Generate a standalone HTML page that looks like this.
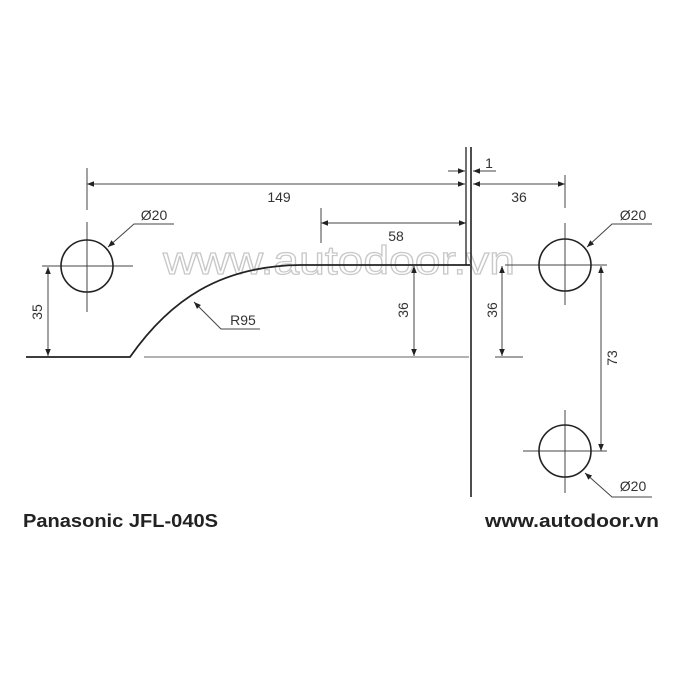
<!DOCTYPE html>
<html><head><meta charset="utf-8"><style>
html,body{margin:0;padding:0;background:#fff;}
svg{display:block;}
text{font-family:"Liberation Sans",Arial,sans-serif;}
</style></head><body>
<svg width="679" height="679" viewBox="0 0 679 679" xmlns="http://www.w3.org/2000/svg">
<defs>
<marker id="a" viewBox="0 0 10 10" refX="10" refY="5" markerWidth="8" markerHeight="7" orient="auto-start-reverse" markerUnits="userSpaceOnUse">
<path d="M0,1 L10,5 L0,9 z" fill="#222"/></marker>
</defs>
<text x="163" y="274" font-size="40" fill="#fff" stroke="#c8c8c8" stroke-width="1.2" textLength="352" lengthAdjust="spacingAndGlyphs">www.autodoor.vn</text>

<g stroke="#444" stroke-width="1" fill="none">
<line x1="87" y1="168" x2="87" y2="210"/>
<line x1="87" y1="222" x2="87" y2="312"/>
<line x1="42" y1="266" x2="133" y2="266"/>
<line x1="87" y1="184" x2="465" y2="184" marker-start="url(#a)" marker-end="url(#a)"/>
<line x1="448" y1="171" x2="465" y2="171" marker-end="url(#a)"/>
<line x1="496" y1="171" x2="473" y2="171" marker-end="url(#a)"/>
<line x1="473" y1="184" x2="565" y2="184" marker-start="url(#a)" marker-end="url(#a)"/>
<line x1="565" y1="175" x2="565" y2="208"/>
<line x1="321" y1="223" x2="466" y2="223" marker-start="url(#a)" marker-end="url(#a)"/>
<line x1="321" y1="208" x2="321" y2="243"/>
<line x1="48" y1="267" x2="48" y2="356" marker-start="url(#a)" marker-end="url(#a)"/>
<line x1="144" y1="357" x2="469" y2="357" stroke="#666"/>
<line x1="414" y1="266" x2="414" y2="356" marker-start="url(#a)" marker-end="url(#a)"/>
<line x1="502" y1="266" x2="502" y2="356" marker-start="url(#a)" marker-end="url(#a)"/>
<line x1="495" y1="357" x2="523" y2="357"/>
<line x1="505" y1="265" x2="607" y2="265"/>
<line x1="565" y1="223" x2="565" y2="305"/>
<line x1="601" y1="266" x2="601" y2="451" marker-start="url(#a)" marker-end="url(#a)"/>
<line x1="523" y1="451" x2="607" y2="451"/>
<line x1="565" y1="410" x2="565" y2="493"/>
<polyline points="174,224 134,224 108,247" marker-end="url(#a)"/>
<polyline points="652,224 612,224 587,247" marker-end="url(#a)"/>
<polyline points="652,497 612,497 585,473" marker-end="url(#a)"/>
<polyline points="260,329 221,329 194,302" marker-end="url(#a)"/>
</g>
<g stroke="#222" fill="none">
<circle cx="87" cy="266" r="26" stroke-width="1.6"/>
<circle cx="565" cy="265" r="26" stroke-width="1.6"/>
<circle cx="565" cy="451" r="26" stroke-width="1.6"/>
<path d="M26,357 L130,357 C170,300 220,266 300,265 L470,265" stroke-width="1.8"/>
<line x1="466" y1="147" x2="466" y2="265" stroke-width="1.3"/>
<line x1="471" y1="147" x2="471" y2="497" stroke-width="1.6"/>
</g>
<g font-size="14" fill="#333" text-anchor="middle">
<text x="279" y="202">149</text>
<text x="489" y="168">1</text>
<text x="519" y="202">36</text>
<text x="396" y="241">58</text>
<text x="154" y="220">Ø20</text>
<text x="633" y="220">Ø20</text>
<text x="633" y="491">Ø20</text>
<text x="243" y="325">R95</text>
<text transform="translate(42,312) rotate(-90)">35</text>
<text transform="translate(408,310) rotate(-90)">36</text>
<text transform="translate(497,310) rotate(-90)">36</text>
<text transform="translate(617,358) rotate(-90)">73</text>
</g>
<text x="23" y="527" font-size="18" font-weight="bold" fill="#222" textLength="195" lengthAdjust="spacingAndGlyphs">Panasonic JFL-040S</text>
<text x="485" y="527" font-size="18" font-weight="bold" fill="#222" textLength="174" lengthAdjust="spacingAndGlyphs">www.autodoor.vn</text>
</svg>
</body></html>
